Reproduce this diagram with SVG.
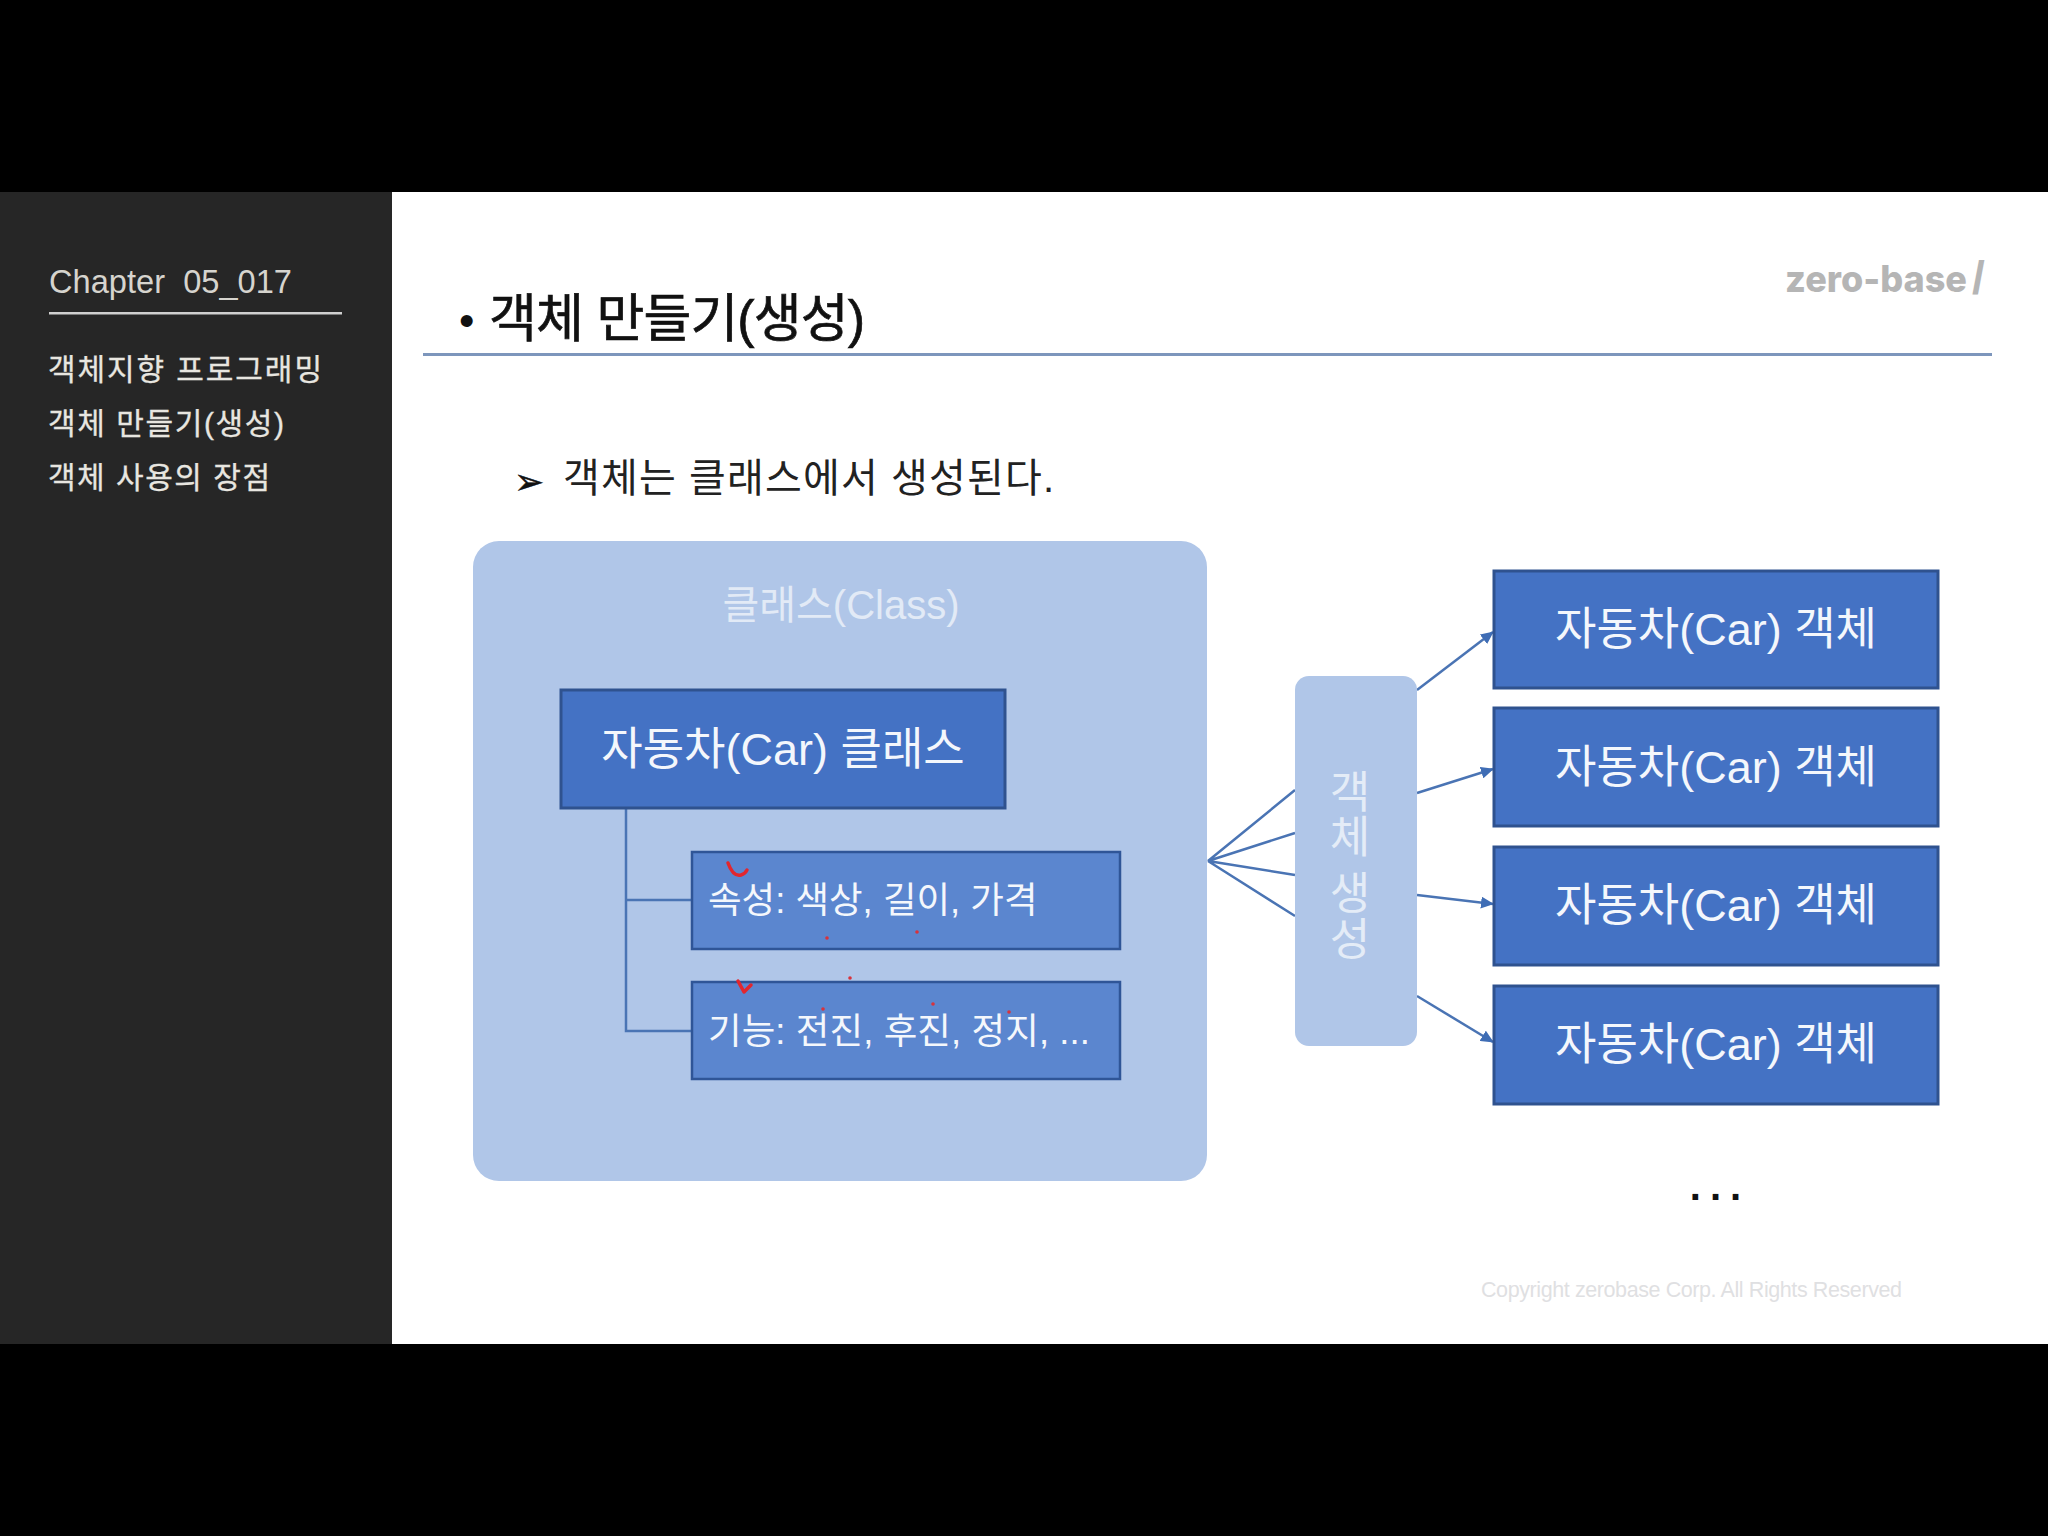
<svg xmlns="http://www.w3.org/2000/svg" width="2048" height="1536" viewBox="0 0 2048 1536">
<style>
text{font-family:"Liberation Sans","Noto Sans CJK KR",sans-serif}
.menu{font-size:30px;fill:#e8e6e0;stroke:#e8e6e0;stroke-width:.3}
.dark{fill:#4472c4;stroke:#2f528f;stroke-width:3}
.sub{fill:#5b86cf;stroke:#2f5597;stroke-width:2.5}
.w44{font-size:45px;fill:#f4f7fc;text-anchor:middle}
.w36{font-size:36.5px;fill:#f4f7fc}
.pale{fill:#b0c6e8}
.vt{font-size:44px;fill:#e4ecf7;text-anchor:middle}
.con{fill:none;stroke:#4a74b4;stroke-width:2.5}
.red{fill:none;stroke:#e2262e;stroke-width:3.5;stroke-linecap:round;stroke-linejoin:round}
.dot{fill:#d8323c}
</style>
<defs>
<marker id="ah" markerUnits="userSpaceOnUse" markerWidth="14" markerHeight="12" refX="12" refY="6" orient="auto">
<path d="M0 0L13 6L0 12Z" fill="#3f6db5"/>
</marker>
</defs>
<rect width="2048" height="1536" fill="#000"/>
<rect x="392" y="192" width="1656" height="1152" fill="#fff"/>
<g id="sidebar">
<rect x="0" y="192" width="392" height="1152" fill="#262626"/>
<text x="49" y="293" font-size="33" fill="#d6d4ce" xml:space="preserve" textLength="243" lengthAdjust="spacingAndGlyphs">Chapter  05_017</text>
<rect x="49" y="312" width="293" height="2.5" fill="#d0d0d0"/>
<text class="menu" x="48" y="380" textLength="274">객체지향 프로그래밍</text>
<text class="menu" x="48" y="434" textLength="236">객체 만들기(생성)</text>
<text class="menu" x="48" y="488" textLength="222">객체 사용의 장점</text>
</g>
<g id="header">
<text x="459" y="336" font-size="44" fill="#111">•</text>
<text x="489" y="337" font-size="52" fill="#111" stroke="#111" stroke-width="0.7" textLength="376">객체 만들기(생성)</text>
<rect x="423" y="353" width="1569" height="3" fill="#7d96bc"/>
<text x="1785" y="292" font-size="37" font-weight="800" fill="#b5b5b5" style="font-family:Inter,sans-serif" textLength="182" lengthAdjust="spacingAndGlyphs">zero-base</text>
<text x="1972" y="294" font-size="46" font-weight="700" fill="#b5b5b5">/</text>
<text x="514" y="494" font-size="36" fill="#111" stroke="#111" stroke-width="0.5" style="font-family:'DejaVu Sans',sans-serif">➢</text>
<text x="563" y="492" font-size="40" fill="#222" textLength="491">객체는 클래스에서 생성된다.</text>
</g>
<g id="class-container">
<rect class="pale" x="473" y="541" width="734" height="640" rx="26"/>
<text x="841" y="619" font-size="40" fill="#e2eaf6" text-anchor="middle">클래스(Class)</text>
</g>
<g id="connectors">
<path class="con" d="M626 808V1031H692M626 900H692"/>
<path class="con" d="M1295 790L1208 861L1295 833M1208 861L1295 875M1208 861L1295 916"/>
<path class="con" d="M1417 690L1493 632" marker-end="url(#ah)"/>
<path class="con" d="M1417 793L1493 769" marker-end="url(#ah)"/>
<path class="con" d="M1417 895L1493 904" marker-end="url(#ah)"/>
<path class="con" d="M1417 996L1493 1042" marker-end="url(#ah)"/>
</g>
<g id="car-class">
<rect class="dark" x="561" y="690" width="444" height="118"/>
<text class="w44" x="783" y="765">자동차(Car) 클래스</text>
</g>
<g id="attributes">
<rect class="sub" x="692" y="852" width="428" height="97"/>
<text class="w36" x="708" y="913">속성: 색상, 길이, 가격</text>
</g>
<g id="methods">
<rect class="sub" x="692" y="982" width="428" height="97"/>
<text class="w36" x="708" y="1044" textLength="382">기능: 전진, 후진, 정지, ...</text>
</g>
<g id="object-creation">
<rect class="pale" x="1295" y="676" width="122" height="370" rx="14"/>
<text class="vt" x="1350" y="808">객</text>
<text class="vt" x="1350" y="853">체</text>
<text class="vt" x="1350" y="909">생</text>
<text class="vt" x="1350" y="955">성</text>
</g>
<g id="object-1">
<rect class="dark" x="1494" y="571" width="444" height="117"/>
<text class="w44" x="1716" y="645">자동차(Car) 객체</text>
</g>
<g id="object-2">
<rect class="dark" x="1494" y="708" width="444" height="118"/>
<text class="w44" x="1716" y="783">자동차(Car) 객체</text>
</g>
<g id="object-3">
<rect class="dark" x="1494" y="847" width="444" height="118"/>
<text class="w44" x="1716" y="921">자동차(Car) 객체</text>
</g>
<g id="object-4">
<rect class="dark" x="1494" y="986" width="444" height="118"/>
<text class="w44" x="1716" y="1060">자동차(Car) 객체</text>
</g>
<g id="annotations">
<path class="red" d="M728 863Q733 877 741 875Q745 874 747 870"/>
<path class="red" d="M738 981L744 992L751 985"/>
<circle class="dot" cx="827" cy="938" r="1.8"/>
<circle class="dot" cx="917" cy="932" r="1.8"/>
<circle class="dot" cx="850" cy="978" r="1.8"/>
<circle class="dot" cx="823" cy="1009" r="1.8"/>
<circle class="dot" cx="933" cy="1004" r="1.8"/>
<circle class="dot" cx="1009" cy="1012" r="1.8"/>
</g>
<g id="footer">
<text x="1720" y="1200" font-size="40" fill="#111" text-anchor="middle" letter-spacing="9" font-weight="700">...</text>
<text x="1481" y="1297" font-size="21.5" fill="#dfe0e2" textLength="421">Copyright zerobase Corp. All Rights Reserved</text>
</g>
</svg>
